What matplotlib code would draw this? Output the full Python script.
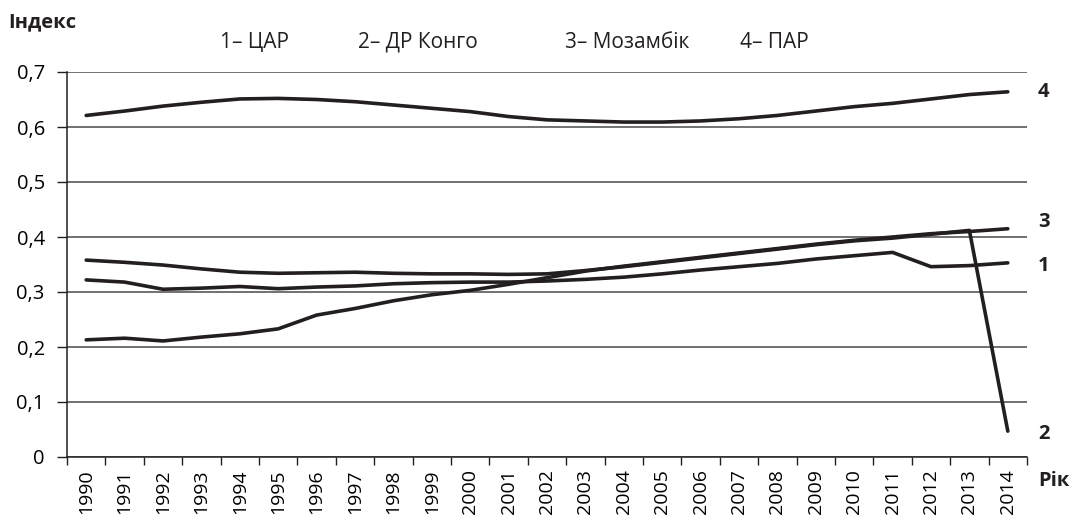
import matplotlib.pyplot as plt
from matplotlib.ticker import FixedLocator, FuncFormatter

years = list(range(1990, 2015))

# 1 - ЦАР
car = [0.322, 0.318, 0.305, 0.307, 0.310, 0.306, 0.309, 0.311, 0.315, 0.317,
       0.318, 0.318, 0.320, 0.323, 0.327, 0.333, 0.340, 0.346, 0.352, 0.360,
       0.366, 0.372, 0.346, 0.348, 0.353]
# 2 - ДР Конго
drc = [0.358, 0.354, 0.349, 0.342, 0.336, 0.334, 0.335, 0.336, 0.334, 0.333,
       0.333, 0.332, 0.333, 0.339, 0.346, 0.354, 0.362, 0.370, 0.378, 0.386,
       0.393, 0.398, 0.405, 0.412, 0.047]
# 3 - Мозамбік
moz = [0.213, 0.216, 0.211, 0.218, 0.224, 0.233, 0.258, 0.270, 0.284, 0.295,
       0.303, 0.314, 0.326, 0.338, 0.347, 0.355, 0.363, 0.371, 0.379, 0.387,
       0.394, 0.400, 0.406, 0.410, 0.415]
# 4 - ПАР
sa = [0.621, 0.629, 0.638, 0.645, 0.651, 0.652, 0.650, 0.646, 0.640, 0.634,
      0.628, 0.619, 0.613, 0.611, 0.609, 0.609, 0.611, 0.615, 0.621, 0.629,
      0.637, 0.643, 0.651, 0.659, 0.664]

series = [("1", car, -3), ("2", drc, -3), ("3", moz, 7), ("4", sa, 0)]
legend = ["1– ЦАР", "2– ДР Конго", "3– Мозамбік", "4– ПАР"]
legend_x = [220, 358, 565, 740]

plt.rcParams['font.family'] = ['Open Sans', 'DejaVu Sans']
ink = '#231f20'

fig = plt.figure(figsize=(10.75, 5.22), dpi=100)
ax = fig.add_axes([67 / 1075, 1 - 457 / 522, 960 / 1075, 385 / 522])

x = list(range(len(years)))
for name, vals, dy in series:
    ax.plot(x, vals, color=ink, lw=2.6, solid_capstyle='round', solid_joinstyle='round', zorder=3)
    ax.annotate(name, xy=(x[-1], vals[-1]), xytext=(30, dy), textcoords='offset pixels',
                ha='left', va='center', fontsize=14.5, fontweight='bold', color=ink)

ax.set_xlim(-0.5, len(years) - 0.5)
ax.set_ylim(0, 0.7)

ax.set_yticks([i / 10 for i in range(8)])
ax.yaxis.set_major_formatter(FuncFormatter(lambda v, p: '0' if v == 0 else f'{v:.1f}'.replace('.', ',')))
ax.yaxis.grid(True, color='#4a4a4a', lw=1.1)
ax.set_axisbelow(True)

ax.set_xticks(x)
ax.set_xticklabels([str(y) for y in years], rotation=90, fontsize=14)
ax.tick_params(axis='x', which='major', length=0, pad=9)
ax.xaxis.set_minor_locator(FixedLocator([i - 0.5 for i in range(len(years) + 1)]))
ax.tick_params(axis='x', which='minor', length=6, width=1, color=ink, direction='out')
ax.tick_params(axis='y', length=7, width=1, color=ink, labelsize=14.5, pad=9)

for s in ['top', 'right']:
    ax.spines[s].set_visible(False)
for s in ['left', 'bottom']:
    ax.spines[s].set_color(ink)
    ax.spines[s].set_linewidth(1.1)

fig.text(8 / 1075, 1 - 22 / 522, 'Індекс', fontsize=14.5, fontweight='bold', va='center', color=ink)
fig.text(1038 / 1075, 1 - 481 / 522, 'Рік', fontsize=14.5, fontweight='bold', va='center', color=ink)
for lab, lx in zip(legend, legend_x):
    fig.text(lx / 1075, 1 - 42 / 522, lab, fontsize=15, va='center', color=ink)

fig.savefig('out.png', dpi=100)
